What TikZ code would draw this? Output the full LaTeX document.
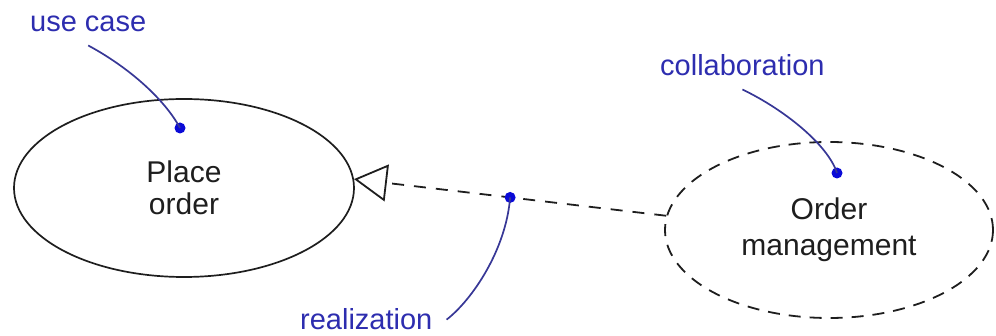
\documentclass[tikz,border=0pt]{standalone}
\usepackage{fontspec}
\setmainfont{Liberation Sans}
\usetikzlibrary{arrows.meta,shapes.geometric}
\definecolor{lblue}{RGB}{45,45,175}
\definecolor{leadc}{RGB}{55,55,150}
\definecolor{dotc}{RGB}{10,10,215}
\definecolor{ink}{RGB}{30,30,30}
\tikzset{
  usecase/.style={ellipse,draw=ink,line width=1.7pt,inner sep=0pt,align=center,
    text=ink,font=\fontsize{30}{32}\selectfont},
  collab/.style={ellipse,draw=ink,line width=1.8pt,dash pattern=on 12pt off 9pt,
    inner sep=0pt,align=center,text=ink,font=\fontsize{30}{36}\selectfont},
  lbl/.style={text=lblue,inner sep=2pt,font=\fontsize{29}{34}\selectfont},
  leadline/.style={draw=leadc,line width=1.7pt},
  dotmark/.style={circle,fill=dotc,minimum size=11pt,inner sep=0pt},
  realline/.style={draw=ink,line width=1.8pt,dash pattern=on 12pt off 10pt,
    -{Triangle[open,length=33pt,width=37pt,fill=white]}}
}
\begin{document}
\begin{tikzpicture}[x=1pt,y=-1pt]
\useasboundingbox (0,0) rectangle (996,336);
\node[usecase,minimum width=340pt,minimum height=178pt] (po) at (184,188) {Place\\order};
\node[collab,minimum width=328pt,minimum height=176pt] (om) at (829,230) {Order\\management};
\node[lbl,anchor=base west] (uc) at (28,32) {use case};
\node[lbl,anchor=base west] (co) at (658,76) {collaboration};
\node[lbl,anchor=base west] (re) at (298,330) {realization};
\node[dotmark] (d1) at (180,128) {};
\node[dotmark] (d3) at (837,173) {};
\draw[realline] (om.175) -- node[dotmark,pos=0.5] (d2) {} (po.3.5);
\draw[leadline] ([yshift=-11pt]uc.south) .. controls (130,68) and (165,100) .. (d1.center);
\draw[leadline] ([yshift=-11pt]co.south) .. controls (785,110) and (828,145) .. (d3.center);
\draw[leadline] ([xshift=12pt]re.east) .. controls (472,300) and (506,250) .. (d2.center);
\end{tikzpicture}
\end{document}
